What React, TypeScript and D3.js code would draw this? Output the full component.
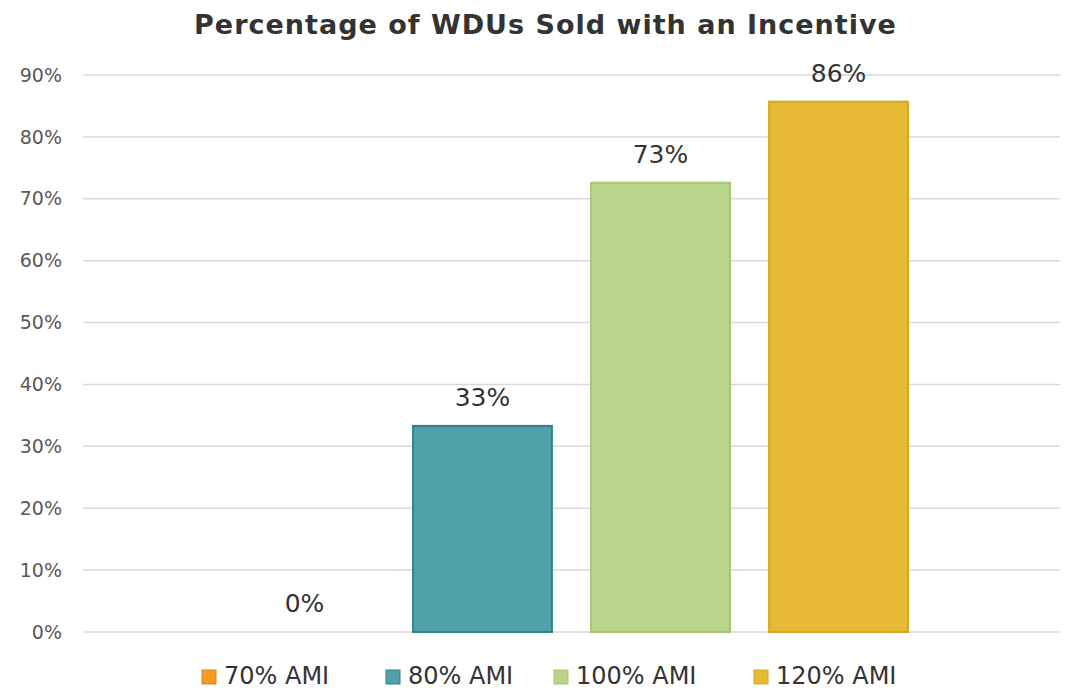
import { useEffect, useRef } from "react";
import * as d3 from "d3";

const title = "Percentage of WDUs Sold with an Incentive";
const seriesNames = ["70% AMI", "80% AMI", "100% AMI", "120% AMI"];
const seriesValues = [0, 33.3, 72.6, 85.7];
const seriesLabels = ["0%", "33%", "73%", "86%"];
const seriesColors = ["#F39B25", "#4FA3A8", "#B8D58B", "#E6BA35"];
const seriesStrokes = ["#D9861A", "#2F8288", "#A6C577", "#D6A821"];
const yTicks = [0, 10, 20, 30, 40, 50, 60, 70, 80, 90];

const App = () => {
    const svgRef = useRef<SVGSVGElement | null>(null);

    useEffect(() => {
        const width = 1069;
        const height = 692;
        const margin = {top: 75, right: 9, bottom: 60, left: 83};

        const svg = d3.select(svgRef.current)
            .attr("width", width)
            .attr("height", height);
        svg.selectAll("*").remove();

        const font = "'DejaVu Sans', Verdana, sans-serif";

        const y = d3.scaleLinear()
            .domain([0, 90])
            .range([height - margin.bottom, margin.top]);

        // one category, four series in the cluster
        const x0 = d3.scaleBand<string>()
            .domain([""])
            .range([margin.left, width - margin.right])
            .paddingOuter(0.186);

        const x1 = d3.scaleBand<string>()
            .domain(seriesNames)
            .range([x0("")!, x0("")! + x0.bandwidth()])
            .paddingInner(0.22)
            .paddingOuter(0.11);

        // gridlines
        svg.append("g")
            .selectAll("line")
            .data(yTicks)
            .enter()
            .append("line")
            .attr("x1", margin.left)
            .attr("x2", width - margin.right)
            .attr("y1", (d) => y(d))
            .attr("y2", (d) => y(d))
            .attr("stroke", "#d9d9d9")
            .attr("stroke-width", 1.5);

        // y tick labels
        svg.append("g")
            .selectAll("text")
            .data(yTicks)
            .enter()
            .append("text")
            .attr("x", 62)
            .attr("y", (d) => y(d))
            .attr("dy", "0.35em")
            .attr("text-anchor", "end")
            .attr("font-family", font)
            .attr("font-size", 19)
            .attr("fill", "#595959")
            .text((d) => `${d}%`);

        // bars
        svg.append("g")
            .selectAll("rect")
            .data(seriesNames)
            .enter()
            .append("rect")
            .attr("x", (d) => x1(d)!)
            .attr("width", x1.bandwidth())
            .attr("y", (_, i) => y(seriesValues[i]))
            .attr("height", (_, i) => y(0) - y(seriesValues[i]))
            .attr("fill", (_, i) => seriesColors[i])
            .attr("stroke", (_, i) => seriesStrokes[i])
            .attr("stroke-width", (_, i) => (seriesValues[i] > 0 ? 2 : 0));

        // data labels
        svg.append("g")
            .selectAll("text")
            .data(seriesNames)
            .enter()
            .append("text")
            .attr("x", (d) => x1(d)! + x1.bandwidth() / 2)
            .attr("y", (_, i) => y(seriesValues[i]) - 20)
            .attr("text-anchor", "middle")
            .attr("font-family", font)
            .attr("font-size", 25)
            .attr("fill", "#333")
            .text((_, i) => seriesLabels[i]);

        // title
        svg.append("text")
            .attr("x", width / 2 + 11)
            .attr("y", 34)
            .attr("text-anchor", "middle")
            .attr("font-family", font)
            .attr("font-weight", "bold")
            .attr("font-size", 27)
            .attr("letter-spacing", 1)
            .attr("fill", "#333")
            .text(title);

        // legend
        const legendX = [202, 386, 554, 754];
        const legend = svg.append("g")
            .selectAll("g")
            .data(seriesNames)
            .enter()
            .append("g")
            .attr("transform", (_, i) => `translate(${legendX[i]},677)`);

        legend.append("rect")
            .attr("x", 0)
            .attr("y", -7)
            .attr("width", 14)
            .attr("height", 14)
            .attr("fill", (_, i) => seriesColors[i])
            .attr("stroke", (_, i) => seriesStrokes[i]);

        legend.append("text")
            .attr("x", 22)
            .attr("y", -1)
            .attr("dy", "0.35em")
            .attr("font-family", font)
            .attr("font-size", 24)
            .attr("fill", "#333")
            .text((d) => d);
    }, []);

    return <svg ref={svgRef} style={{position: "absolute", left: 0, top: 0}}></svg>;
};

export default App;
